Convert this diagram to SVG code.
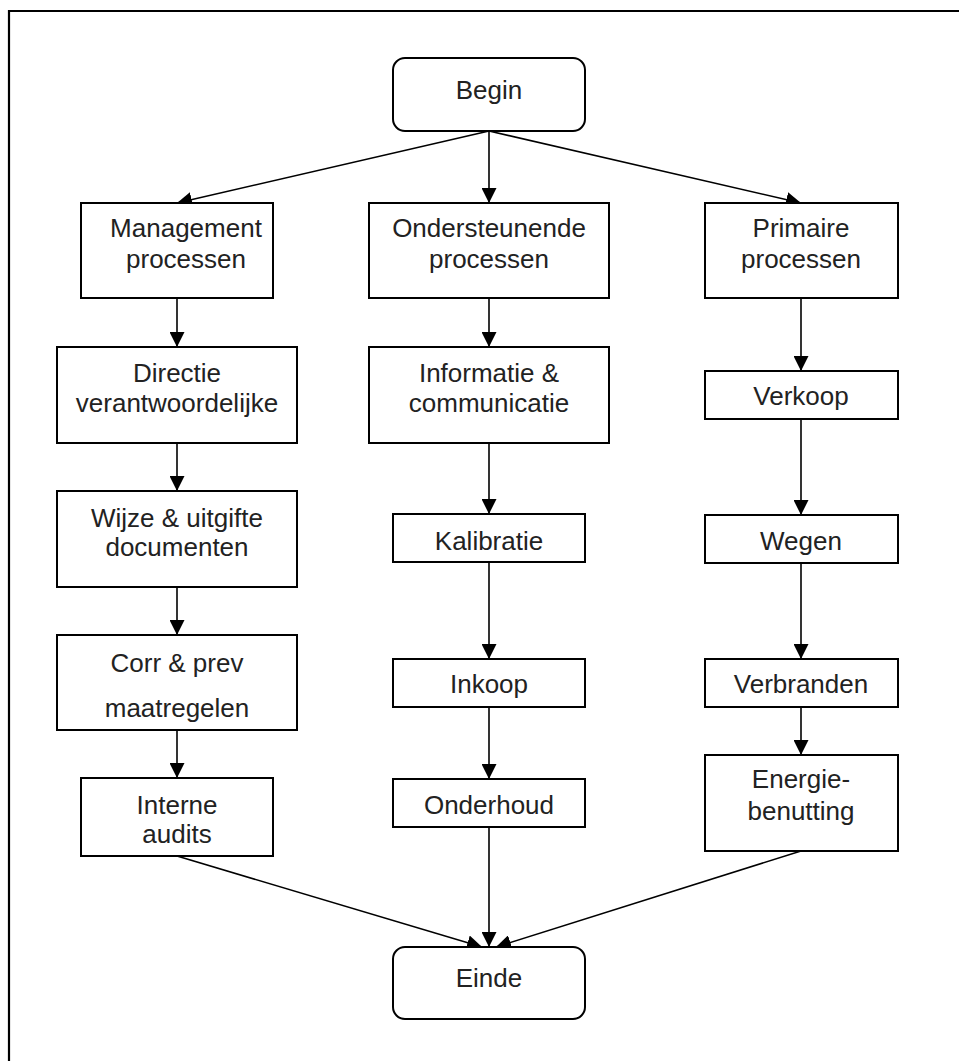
<svg xmlns="http://www.w3.org/2000/svg" width="959" height="1061" viewBox="0 0 959 1061">
<style>
.box{fill:#fff;stroke:#000;stroke-width:2}
.t{font-family:"Liberation Sans",Arial,sans-serif;font-size:26px;fill:#222;text-anchor:middle}
.c{stroke:#000;stroke-width:1.6;fill:none;marker-end:url(#ah)}
</style>
<defs>
<marker id="ah" markerUnits="userSpaceOnUse" markerWidth="15" markerHeight="15" refX="15" refY="7.5" orient="auto" viewBox="0 0 15 15">
<path d="M0,0 L15,7.5 L0,15 z" fill="#000"/>
</marker>
</defs>
<rect width="959" height="1061" fill="#fff"/>
<path d="M9,1061 V11 H959" fill="none" stroke="#000" stroke-width="2.2"/>
<g id="connectors">
<line class="c" x1="489" y1="131" x2="177" y2="203"/>
<line class="c" x1="489" y1="131" x2="489" y2="203"/>
<line class="c" x1="489" y1="131" x2="801" y2="203"/>
<line class="c" x1="177" y1="298" x2="177" y2="347"/>
<line class="c" x1="177" y1="443" x2="177" y2="491"/>
<line class="c" x1="177" y1="587" x2="177" y2="635"/>
<line class="c" x1="177" y1="730" x2="177" y2="778"/>
<line class="c" x1="489" y1="298" x2="489" y2="347"/>
<line class="c" x1="489" y1="443" x2="489" y2="514"/>
<line class="c" x1="489" y1="562" x2="489" y2="659"/>
<line class="c" x1="489" y1="707" x2="489" y2="779"/>
<line class="c" x1="489" y1="827" x2="489" y2="947"/>
<line class="c" x1="801" y1="298" x2="801" y2="371"/>
<line class="c" x1="801" y1="419" x2="801" y2="515"/>
<line class="c" x1="801" y1="563" x2="801" y2="659"/>
<line class="c" x1="801" y1="707" x2="801" y2="755"/>
<line class="c" x1="177" y1="856" x2="482" y2="947"/>
<line class="c" x1="801" y1="851" x2="496" y2="947"/>
</g>
<g id="begin"><rect class="box" x="393" y="58" width="192" height="73" rx="12"/><text class="t" x="489" y="99">Begin</text></g>
<g id="management"><rect class="box" x="81" y="203" width="192" height="95"/><text class="t" x="186" y="237">Management</text><text class="t" x="186" y="268">processen</text></g>
<g id="ondersteunende"><rect class="box" x="369" y="203" width="240" height="95"/><text class="t" x="489" y="237">Ondersteunende</text><text class="t" x="489" y="268">processen</text></g>
<g id="primaire"><rect class="box" x="705" y="203" width="193" height="95"/><text class="t" x="801" y="237">Primaire</text><text class="t" x="801" y="268">processen</text></g>
<g id="directie"><rect class="box" x="57" y="347" width="240" height="96"/><text class="t" x="177" y="382">Directie</text><text class="t" x="177" y="412">verantwoordelijke</text></g>
<g id="informatie"><rect class="box" x="369" y="347" width="240" height="96"/><text class="t" x="489" y="382">Informatie &amp;</text><text class="t" x="489" y="412">communicatie</text></g>
<g id="verkoop"><rect class="box" x="705" y="371" width="193" height="48"/><text class="t" x="801" y="405">Verkoop</text></g>
<g id="wijze"><rect class="box" x="57" y="491" width="240" height="96"/><text class="t" x="177" y="527">Wijze &amp; uitgifte</text><text class="t" x="177" y="556">documenten</text></g>
<g id="kalibratie"><rect class="box" x="393" y="514" width="192" height="48"/><text class="t" x="489" y="550">Kalibratie</text></g>
<g id="wegen"><rect class="box" x="705" y="515" width="193" height="48"/><text class="t" x="801" y="550">Wegen</text></g>
<g id="corr"><rect class="box" x="57" y="635" width="240" height="95"/><text class="t" x="177" y="672">Corr &amp; prev</text><text class="t" x="177" y="717">maatregelen</text></g>
<g id="inkoop"><rect class="box" x="393" y="659" width="192" height="48"/><text class="t" x="489" y="693">Inkoop</text></g>
<g id="verbranden"><rect class="box" x="705" y="659" width="193" height="48"/><text class="t" x="801" y="693">Verbranden</text></g>
<g id="energie"><rect class="box" x="705" y="755" width="193" height="96"/><text class="t" x="801" y="788">Energie-</text><text class="t" x="801" y="820">benutting</text></g>
<g id="interne"><rect class="box" x="81" y="778" width="192" height="78"/><text class="t" x="177" y="814">Interne</text><text class="t" x="177" y="843">audits</text></g>
<g id="onderhoud"><rect class="box" x="393" y="779" width="192" height="48"/><text class="t" x="489" y="814">Onderhoud</text></g>
<g id="einde"><rect class="box" x="393" y="947" width="192" height="72" rx="12"/><text class="t" x="489" y="987">Einde</text></g>
</svg>
